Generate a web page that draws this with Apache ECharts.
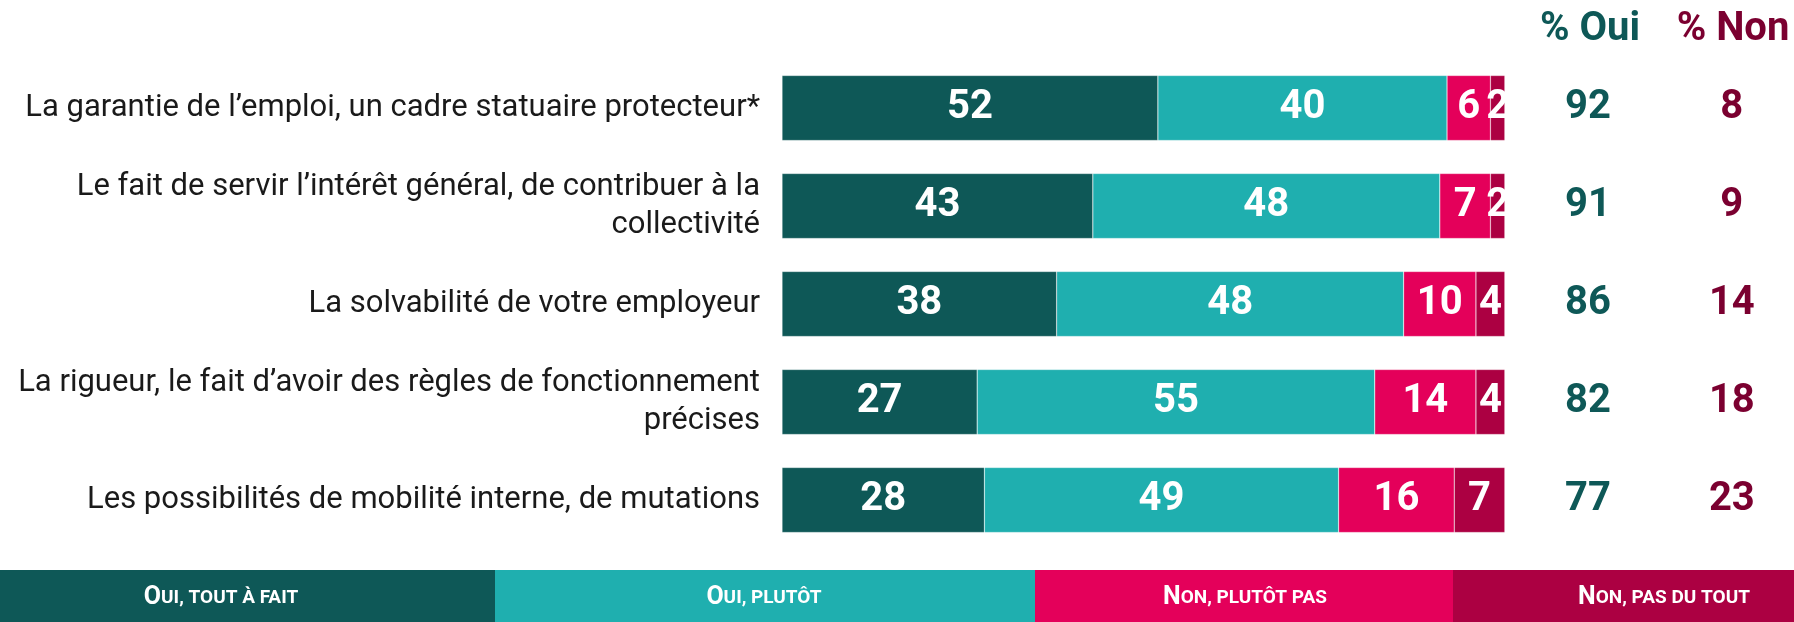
<!DOCTYPE html>
<html>
<head>
<meta charset="utf-8">
<script src="https://cdn.jsdelivr.net/npm/echarts@6/dist/echarts.min.js"></script>
<style>
  html, body { margin: 0; padding: 0; background: #fff; }
  #chart { width: 1794px; height: 622px; }
</style>
</head>
<body>
<div id="chart"></div>
<script>
// categories (top to bottom)
var categories = [
  'La garantie de l\u2019emploi, un cadre statuaire protecteur*',
  'Le fait de servir l\u2019int\u00e9r\u00eat g\u00e9n\u00e9ral, de contribuer \u00e0 la\ncollectivit\u00e9',
  'La solvabilit\u00e9 de votre employeur',
  'La rigueur, le fait d\u2019avoir des r\u00e8gles de fonctionnement\npr\u00e9cises',
  'Les possibilit\u00e9s de mobilit\u00e9 interne, de mutations'
];
var seriesNames = ['Oui, tout \u00e0 fait', 'Oui, plut\u00f4t', 'Non, plut\u00f4t pas', 'Non, pas du tout'];
var ouiToutAFait = [52, 43, 38, 27, 28];
var ouiPlutot    = [40, 48, 48, 55, 49];
var nonPlutotPas = [6, 7, 10, 14, 16];
var nonPasDuTout = [2, 2, 4, 4, 7];
var ouiTotal = [92, 91, 86, 82, 77];
var nonTotal = [8, 9, 14, 18, 23];

var colors = ['#0e5857', '#1fafaf', '#e4005a', '#ac0042'];
var ouiColor = '#0e5857', nonColor = '#7b0030';

var chart = echarts.init(document.getElementById('chart'));

var barData = [ouiToutAFait, ouiPlutot, nonPlutotPas, nonPasDuTout];
var series = [];
barData.forEach(function (d, i) {
  series.push({
    name: seriesNames[i],
    type: 'bar',
    stack: 'total',
    barWidth: 65,
    data: d,
    itemStyle: { color: colors[i], borderColor: 'rgba(255,255,255,0.35)', borderWidth: 0.6 },
    label: {
      show: true,
      position: 'inside',
      color: '#fff',
      fontFamily: 'Roboto',
      fontWeight: 'bold',
      fontSize: 40
    }
  });
});

// totals columns, drawn as label-only scatter points
function totalSeries(vals, x, color) {
  return {
    type: 'scatter',
    symbolSize: 0,
    silent: true,
    itemStyle: { opacity: 1 },
    data: vals.map(function (v, i) { return [x, i, v]; }),
    label: {
      show: true,
      position: 'inside',
      formatter: function (p) { return p.value[2]; },
      color: color,
      fontFamily: 'Roboto',
      fontWeight: 'bold',
      fontSize: 40
    }
  };
}
series.push(totalSeries(ouiTotal, 111.5, ouiColor));
series.push(totalSeries(nonTotal, 131.4, nonColor));

// bottom legend band
var legendBoxes = [[0, 495], [495, 1035], [1035, 1453], [1453, 1794]];
var legendText = [
  ['O', 'UI, TOUT \u00c0 FAIT', 221],
  ['O', 'UI, PLUT\u00d4T', 764],
  ['N', 'ON, PLUT\u00d4T PAS', 1245],
  ['N', 'ON, PAS DU TOUT', 1664]
];
var graphics = [];
legendBoxes.forEach(function (b, i) {
  graphics.push({
    type: 'rect',
    shape: { x: b[0], y: 570, width: b[1] - b[0], height: 52 },
    style: { fill: colors[i] }
  });
  graphics.push({
    type: 'text',
    x: legendText[i][2],
    y: 598,
    style: {
      text: '{b|' + legendText[i][0] + '}{s|' + legendText[i][1] + '}',
      align: 'center',
      verticalAlign: 'middle',
      fill: '#fff',
      rich: {
        b: { fontSize: 25, fontWeight: 'bold', fontFamily: 'Roboto', fill: '#fff' },
        s: { fontSize: 19, fontWeight: 'bold', fontFamily: 'Roboto', fill: '#fff' }
      }
    }
  });
});
// column headers
graphics.push({
  type: 'text', x: 1590, y: 30,
  style: { text: '% Oui', align: 'center', verticalAlign: 'middle', fill: ouiColor,
    fontSize: 40, fontWeight: 'bold', fontFamily: 'Roboto' }
});
graphics.push({
  type: 'text', x: 1733, y: 30,
  style: { text: '% Non', align: 'center', verticalAlign: 'middle', fill: nonColor,
    fontSize: 40, fontWeight: 'bold', fontFamily: 'Roboto' }
});

chart.setOption({
  animation: false,
  grid: { left: 782, right: 0, top: 59, bottom: 73 },
  xAxis: {
    type: 'value', min: 0, max: 140, show: false
  },
  yAxis: {
    type: 'category',
    inverse: true,
    data: categories,
    axisLine: { show: false },
    axisTick: { show: false },
    axisLabel: {
      margin: 22,
      color: '#1a1a1a',
      fontFamily: 'Roboto',
      fontSize: 31,
      lineHeight: 38,
      align: 'right'
    }
  },
  series: series,
  graphic: graphics
});
</script>
</body>
</html>
